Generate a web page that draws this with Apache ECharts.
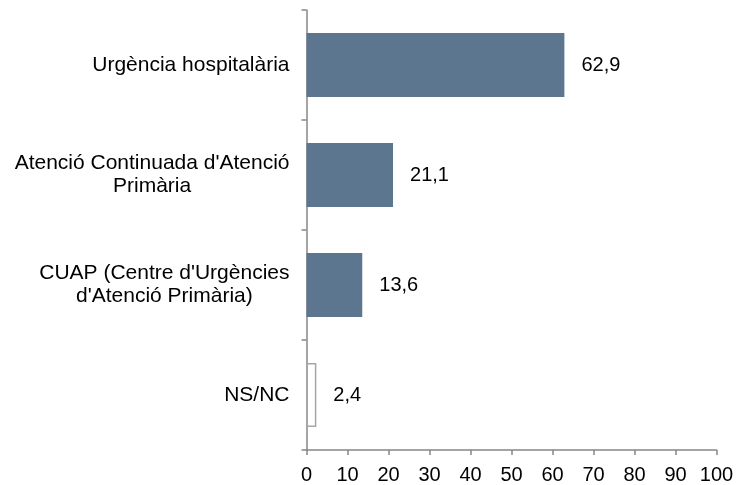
<!DOCTYPE html>
<html>
<head>
<meta charset="utf-8">
<script src="https://cdn.jsdelivr.net/npm/echarts@6/dist/echarts.min.js"></script>
<style>
  html, body { margin: 0; padding: 0; background: #fff; }
  #chart { width: 737px; height: 485px; }
</style>
</head>
<body>
<div id="chart"></div>
<script>
// Service used for urgent care (%)
const categories = [
  'Urgència hospitalària',
  "Atenció Continuada d'Atenció\nPrimària",
  "CUAP (Centre d'Urgències\nd'Atenció Primària)",
  'NS/NC'
];
const values = [62.9, 21.1, 13.6, 2.4];
const xTicks = [0, 10, 20, 30, 40, 50, 60, 70, 80, 90, 100];

const FONT = "'Liberation Sans', Arial, sans-serif";
const BAR = '#5d7690';
const AXIS = '#878787';

const chart = echarts.init(document.getElementById('chart'), null, { renderer: 'canvas' });

const seriesData = values.map((v, i) => {
  const item = { value: v };
  if (categories[i] === 'NS/NC') {
    item.itemStyle = { color: '#ffffff', borderColor: '#a6a6a6', borderWidth: 1.5 };
  }
  return item;
});

chart.setOption({
  animation: false,
  grid: { left: 306.5, right: 20.5, top: 10, bottom: 33, containLabel: false },
  xAxis: {
    type: 'value',
    min: xTicks[0],
    max: xTicks[xTicks.length - 1],
    interval: xTicks[1] - xTicks[0],
    splitLine: { show: false },
    axisLine: { show: true, lineStyle: { color: AXIS, width: 1.5 } },
    axisTick: { show: true, length: 5, lineStyle: { color: AXIS, width: 1.5 } },
    axisLabel: { color: '#000', fontSize: 20, fontFamily: FONT, margin: 15 }
  },
  yAxis: {
    type: 'category',
    inverse: true,
    data: categories,
    axisLine: { show: true, lineStyle: { color: AXIS, width: 1.5 } },
    axisTick: { show: true, length: 5, lineStyle: { color: AXIS, width: 1.5 } },
    axisLabel: {
      margin: 17,
      align: 'right',
      formatter: (v) => v.split('\n').map(l => '{c|' + l + '}').join('\n'),
      rich: {
        c: { align: 'center', color: '#000', fontSize: 21, lineHeight: 23, fontFamily: FONT }
      }
    }
  },
  series: [{
    type: 'bar',
    data: seriesData,
    barWidth: 64,
    itemStyle: { color: BAR },
    label: {
      show: true,
      position: 'right',
      distance: 17,
      color: '#000',
      fontSize: 20,
      fontFamily: FONT,
      formatter: (p) => p.value.toFixed(1).replace('.', ',')
    }
  }]
});
</script>
</body>
</html>
